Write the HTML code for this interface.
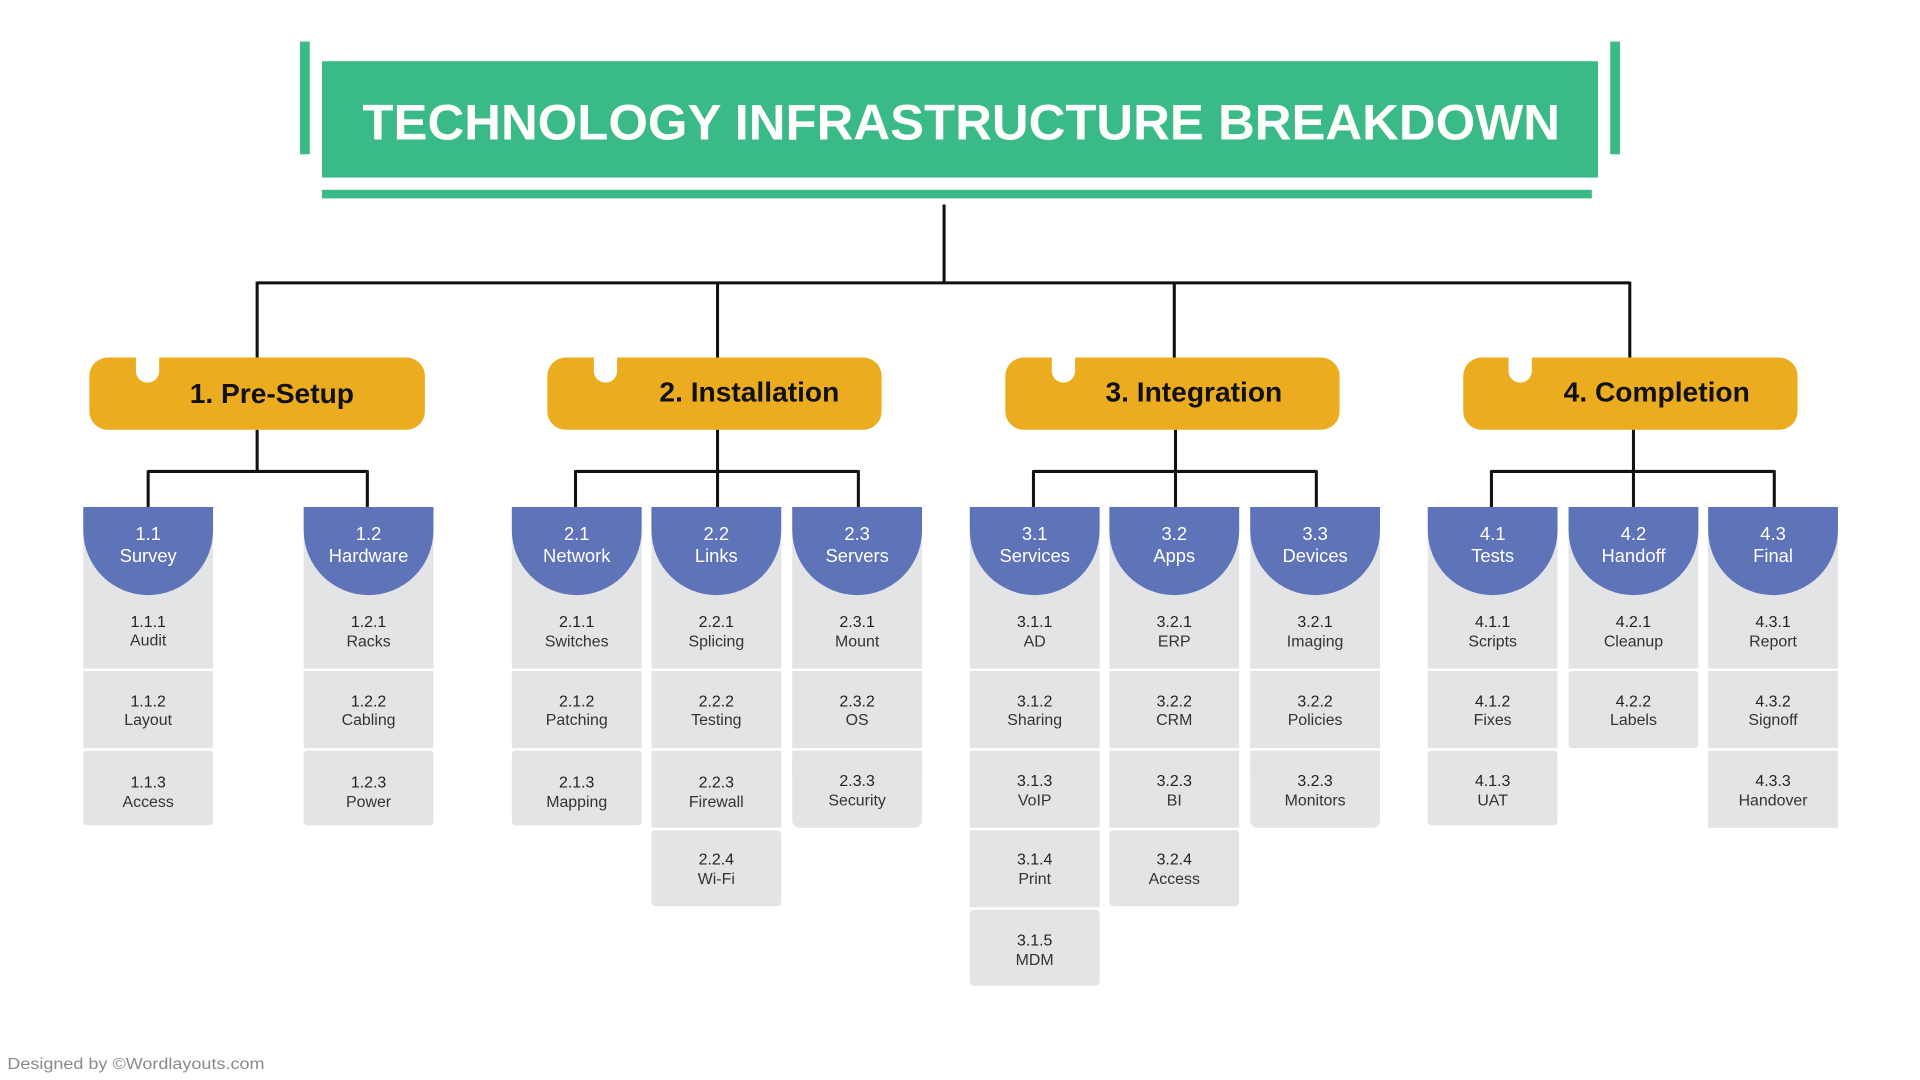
<!DOCTYPE html>
<html><head><meta charset="utf-8"><style>
html,body{margin:0;padding:0;background:#fff;}
svg{display:block;}
text{font-family:"Liberation Sans",sans-serif;}
.h{fill:#fff;font-size:15px;text-anchor:middle;}
.n{fill:#222;font-size:13px;text-anchor:middle;}
.l{fill:#333;font-size:13px;text-anchor:middle;}
.y{fill:#111;font-size:23px;font-weight:bold;text-anchor:middle;}
.g{fill:#e3e4e6;}
.b{fill:#5f73b9;}
</style></head><body>
<svg width="1920" height="1080" viewBox="0 0 1568 882" xmlns="http://www.w3.org/2000/svg">
<defs>
<path id="bh" d="M0,414 H106 V433 A53,53 0 0 1 0,433 Z"/>
</defs>
<rect x="245" y="34" width="8" height="92" fill="#3aba86"/>
<rect x="1315" y="34" width="8" height="92" fill="#3aba86"/>
<rect x="263" y="50" width="1042" height="95" fill="#3aba86"/>
<rect x="263" y="155" width="1037" height="7" fill="#3aba86"/>
<text x="785" y="114" fill="#fff" font-size="41" font-weight="bold" text-anchor="middle" textLength="978" lengthAdjust="spacingAndGlyphs">TECHNOLOGY INFRASTRUCTURE BREAKDOWN</text>
<g stroke="#111" stroke-width="2.5" fill="none">
<path d="M771,167 V231 M210,231 H1331 M210,230 V292 M586,230 V292 M959,230 V292 M1331,230 V292"/>
<path d="M210,351 V385 M121,385 H300 M121,384 V414 M300,384 V414"/>
<path d="M586,351 V385 M470,385 H701 M470,384 V414 M586,384 V414 M701,384 V414"/>
<path d="M960,351 V385 M844,385 H1075 M844,384 V414 M960,384 V414 M1075,384 V414"/>
<path d="M1334,351 V385 M1218,385 H1449 M1218,384 V414 M1334,384 V414 M1449,384 V414"/>
</g>
<g fill="#ebac20">
<rect x="73" y="292" width="274" height="59" rx="15"/>
<rect x="447" y="292" width="273" height="59" rx="15"/>
<rect x="821" y="292" width="273" height="59" rx="15"/>
<rect x="1195" y="292" width="273" height="59" rx="15"/>
</g>
<g fill="#fff">
<path d="M111,291 V303 A9.5,9.5 0 0 0 130,303 V291 Z"/>
<path d="M485,291 V303 A9.5,9.5 0 0 0 504,303 V291 Z"/>
<path d="M859,291 V303 A9.5,9.5 0 0 0 878,303 V291 Z"/>
<path d="M1232,291 V303 A9.5,9.5 0 0 0 1251,303 V291 Z"/>
</g>
<text class="y" x="222" y="329">1. Pre-Setup</text>
<text class="y" x="612" y="328">2. Installation</text>
<text class="y" x="975" y="328">3. Integration</text>
<text class="y" x="1353" y="328">4. Completion</text>

<g transform="translate(68,0)">
<rect class="g" x="0" y="414" width="106" height="132"/><rect class="g" x="0" y="548" width="106" height="63"/><rect class="g" x="0" y="613" width="106" height="61" rx="3"/>
<use href="#bh" class="b"/>
<text class="h" x="53" y="441">1.1</text><text class="h" x="53" y="459">Survey</text>
<text class="n" x="53" y="512">1.1.1</text><text class="l" x="53" y="527">Audit</text>
<text class="n" x="53" y="577">1.1.2</text><text class="l" x="53" y="592">Layout</text>
<text class="n" x="53" y="643">1.1.3</text><text class="l" x="53" y="659">Access</text>
</g>
<g transform="translate(248,0)">
<rect class="g" x="0" y="414" width="106" height="132"/><rect class="g" x="0" y="548" width="106" height="63"/><rect class="g" x="0" y="613" width="106" height="61" rx="3"/>
<use href="#bh" class="b"/>
<text class="h" x="53" y="441">1.2</text><text class="h" x="53" y="459">Hardware</text>
<text class="n" x="53" y="512">1.2.1</text><text class="l" x="53" y="528">Racks</text>
<text class="n" x="53" y="577">1.2.2</text><text class="l" x="53" y="592">Cabling</text>
<text class="n" x="53" y="643">1.2.3</text><text class="l" x="53" y="659">Power</text>
</g>
<g transform="translate(418,0)">
<rect class="g" x="0" y="414" width="106" height="132"/><rect class="g" x="0" y="548" width="106" height="63"/><rect class="g" x="0" y="613" width="106" height="61" rx="3"/>
<use href="#bh" class="b"/>
<text class="h" x="53" y="441">2.1</text><text class="h" x="53" y="459">Network</text>
<text class="n" x="53" y="512">2.1.1</text><text class="l" x="53" y="528">Switches</text>
<text class="n" x="53" y="577">2.1.2</text><text class="l" x="53" y="592">Patching</text>
<text class="n" x="53" y="643">2.1.3</text><text class="l" x="53" y="659">Mapping</text>
</g>
<g transform="translate(532,0)">
<rect class="g" x="0" y="414" width="106" height="132"/><rect class="g" x="0" y="548" width="106" height="63"/><rect class="g" x="0" y="613" width="106" height="63"/><rect class="g" x="0" y="678" width="106" height="62" rx="3"/>
<use href="#bh" class="b"/>
<text class="h" x="53" y="441">2.2</text><text class="h" x="53" y="459">Links</text>
<text class="n" x="53" y="512">2.2.1</text><text class="l" x="53" y="528">Splicing</text>
<text class="n" x="53" y="577">2.2.2</text><text class="l" x="53" y="592">Testing</text>
<text class="n" x="53" y="643">2.2.3</text><text class="l" x="53" y="659">Firewall</text>
<text class="n" x="53" y="706">2.2.4</text><text class="l" x="53" y="722">Wi-Fi</text>
</g>
<g transform="translate(647,0)">
<rect class="g" x="0" y="414" width="106" height="132"/><rect class="g" x="0" y="548" width="106" height="63"/><rect class="g" x="0" y="613" width="106" height="63" rx="6"/><rect class="g" x="0" y="613" width="106" height="20"/>
<use href="#bh" class="b"/>
<text class="h" x="53" y="441">2.3</text><text class="h" x="53" y="459">Servers</text>
<text class="n" x="53" y="512">2.3.1</text><text class="l" x="53" y="528">Mount</text>
<text class="n" x="53" y="577">2.3.2</text><text class="l" x="53" y="592">OS</text>
<text class="n" x="53" y="642">2.3.3</text><text class="l" x="53" y="658">Security</text>
</g>
<g transform="translate(792,0)">
<rect class="g" x="0" y="414" width="106" height="132"/><rect class="g" x="0" y="548" width="106" height="63"/><rect class="g" x="0" y="613" width="106" height="63"/><rect class="g" x="0" y="678" width="106" height="63"/><rect class="g" x="0" y="743" width="106" height="62" rx="3"/>
<use href="#bh" class="b"/>
<text class="h" x="53" y="441">3.1</text><text class="h" x="53" y="459">Services</text>
<text class="n" x="53" y="512">3.1.1</text><text class="l" x="53" y="528">AD</text>
<text class="n" x="53" y="577">3.1.2</text><text class="l" x="53" y="592">Sharing</text>
<text class="n" x="53" y="642">3.1.3</text><text class="l" x="53" y="658">VoIP</text>
<text class="n" x="53" y="706">3.1.4</text><text class="l" x="53" y="722">Print</text>
<text class="n" x="53" y="772">3.1.5</text><text class="l" x="53" y="788">MDM</text>
</g>
<g transform="translate(906,0)">
<rect class="g" x="0" y="414" width="106" height="132"/><rect class="g" x="0" y="548" width="106" height="63"/><rect class="g" x="0" y="613" width="106" height="63"/><rect class="g" x="0" y="678" width="106" height="62" rx="3"/>
<use href="#bh" class="b"/>
<text class="h" x="53" y="441">3.2</text><text class="h" x="53" y="459">Apps</text>
<text class="n" x="53" y="512">3.2.1</text><text class="l" x="53" y="528">ERP</text>
<text class="n" x="53" y="577">3.2.2</text><text class="l" x="53" y="592">CRM</text>
<text class="n" x="53" y="642">3.2.3</text><text class="l" x="53" y="658">BI</text>
<text class="n" x="53" y="706">3.2.4</text><text class="l" x="53" y="722">Access</text>
</g>
<g transform="translate(1021,0)">
<rect class="g" x="0" y="414" width="106" height="132"/><rect class="g" x="0" y="548" width="106" height="63"/><rect class="g" x="0" y="613" width="106" height="63" rx="6"/><rect class="g" x="0" y="613" width="106" height="20"/>
<use href="#bh" class="b"/>
<text class="h" x="53" y="441">3.3</text><text class="h" x="53" y="459">Devices</text>
<text class="n" x="53" y="512">3.2.1</text><text class="l" x="53" y="528">Imaging</text>
<text class="n" x="53" y="577">3.2.2</text><text class="l" x="53" y="592">Policies</text>
<text class="n" x="53" y="642">3.2.3</text><text class="l" x="53" y="658">Monitors</text>
</g>
<g transform="translate(1166,0)">
<rect class="g" x="0" y="414" width="106" height="132"/><rect class="g" x="0" y="548" width="106" height="63"/><rect class="g" x="0" y="613" width="106" height="61" rx="3"/>
<use href="#bh" class="b"/>
<text class="h" x="53" y="441">4.1</text><text class="h" x="53" y="459">Tests</text>
<text class="n" x="53" y="512">4.1.1</text><text class="l" x="53" y="528">Scripts</text>
<text class="n" x="53" y="577">4.1.2</text><text class="l" x="53" y="592">Fixes</text>
<text class="n" x="53" y="642">4.1.3</text><text class="l" x="53" y="658">UAT</text>
</g>
<g transform="translate(1281,0)">
<rect class="g" x="0" y="414" width="106" height="132"/><rect class="g" x="0" y="548" width="106" height="63" rx="3"/>
<use href="#bh" class="b"/>
<text class="h" x="53" y="441">4.2</text><text class="h" x="53" y="459">Handoff</text>
<text class="n" x="53" y="512">4.2.1</text><text class="l" x="53" y="528">Cleanup</text>
<text class="n" x="53" y="577">4.2.2</text><text class="l" x="53" y="592">Labels</text>
</g>
<g transform="translate(1395,0)">
<rect class="g" x="0" y="414" width="106" height="132"/><rect class="g" x="0" y="548" width="106" height="63"/><rect class="g" x="0" y="613" width="106" height="63"/>
<use href="#bh" class="b"/>
<text class="h" x="53" y="441">4.3</text><text class="h" x="53" y="459">Final</text>
<text class="n" x="53" y="512">4.3.1</text><text class="l" x="53" y="528">Report</text>
<text class="n" x="53" y="577">4.3.2</text><text class="l" x="53" y="592">Signoff</text>
<text class="n" x="53" y="642">4.3.3</text><text class="l" x="53" y="658">Handover</text>
</g>

<text x="6" y="873" fill="#8a8a8a" font-size="13" textLength="210" lengthAdjust="spacingAndGlyphs">Designed by ©Wordlayouts.com</text>
</svg>
</body></html>
